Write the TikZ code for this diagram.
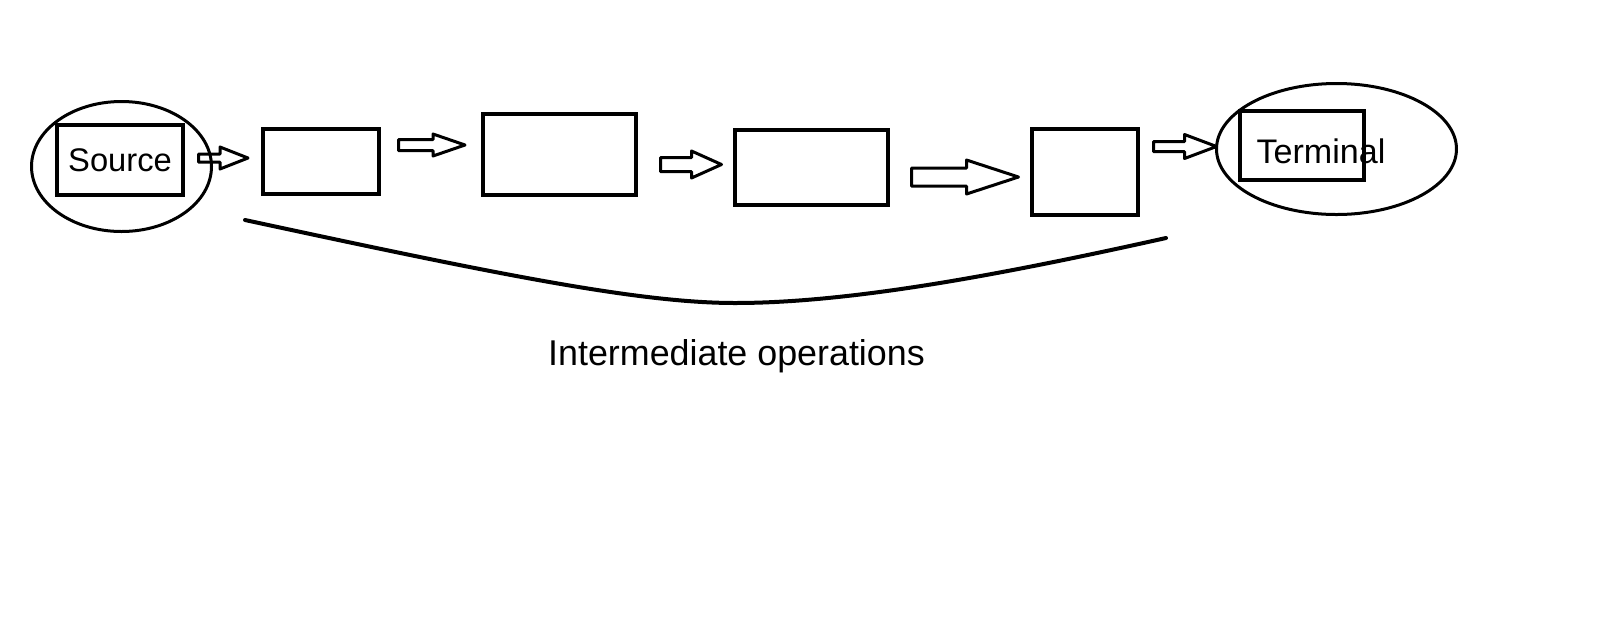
\documentclass[tikz,border=0pt]{standalone}
\usepackage{fontspec}
\setmainfont{Liberation Sans}
\usetikzlibrary{shapes.geometric,calc}

\tikzset{
  opbox/.style={rectangle, draw, line width=0.4mm, inner sep=0pt},
  ring/.style={ellipse, draw, line width=0.3mm, inner sep=0pt},
  blockline/.style={draw, line width=0.3mm, line join=round},
}
\newcommand{\blockarrow}[5]{%
  \draw[blockline] ($(#1)+(0,-#3)$) -- ($(#2)+(-#5,-#3)$) -- ($(#2)+(-#5,-#4)$)
    -- (#2) -- ($(#2)+(-#5,#4)$) -- ($(#2)+(-#5,#3)$) -- ($(#1)+(0,#3)$) -- cycle;}

\begin{document}
\begin{tikzpicture}[x=0.1mm, y=-0.1mm]
  \useasboundingbox[fill=white] (0,0) rectangle (1611,631);
  \node[ring, minimum width=18mm, minimum height=13mm] (srcring) at (121.5,166.5) {};
  \node[ring, minimum width=24mm, minimum height=13.1mm] (termring) at (1336.5,149) {};
  \node[opbox, minimum width=12.6mm, minimum height=7mm, font=\fontsize{9.3}{11}\selectfont] (src) at (120,160) {Source};
  \node[opbox, minimum width=11.6mm, minimum height=6.5mm] (op1) at (321,161.5) {};
  \node[opbox, minimum width=15.3mm, minimum height=8.1mm] (op2) at (559.5,154.5) {};
  \node[opbox, minimum width=15.3mm, minimum height=7.5mm] (op3) at (811.5,167.5) {};
  \node[opbox, minimum width=10.6mm, minimum height=8.6mm] (op4) at (1085,172) {};
  \node[opbox, minimum width=12.4mm, minimum height=6.9mm] (term) at (1302,145.5) {};
  \node[anchor=base, inner sep=0pt, font=\fontsize{9.7}{11}\selectfont] (termtext) at (1321,163) {Terminal};
  \coordinate (a1tail) at (198.5,158);
  \coordinate (a1tip) at (248,158);
  \coordinate (a2tail) at (398.5,145);
  \coordinate (a2tip) at (465,145);
  \coordinate (a3tail) at (660.5,164.5);
  \coordinate (a3tip) at (721.5,164.5);
  \coordinate (a4tail) at (911.5,177);
  \coordinate (a4tip) at (1018.5,177);
  \coordinate (a5tail) at (1153.5,146.5);
  \coordinate (a5tip) at (1216.5,146.5);
  \blockarrow{a1tail}{a1tip}{4}{11}{28}
  \blockarrow{a2tail}{a2tip}{5.5}{11}{32}
  \blockarrow{a3tail}{a3tip}{7}{13.5}{30}
  \blockarrow{a4tail}{a4tip}{9}{17}{52}
  \blockarrow{a5tail}{a5tip}{5}{12}{32}
  \coordinate (bendl) at (245,220);
  \coordinate (bendm) at (735,303);
  \coordinate (bendr) at (1166,238);
  \draw[line width=0.4mm, line cap=round] (bendl) .. controls (500,275) and (640,303) .. (bendm)
    .. controls (850,303) and (1000,275) .. (bendr);
  \node[anchor=base, inner sep=0pt, font=\fontsize{10.2}{12}\selectfont] (opstext) at (736.5,365) {Intermediate operations};
\end{tikzpicture}
\end{document}
